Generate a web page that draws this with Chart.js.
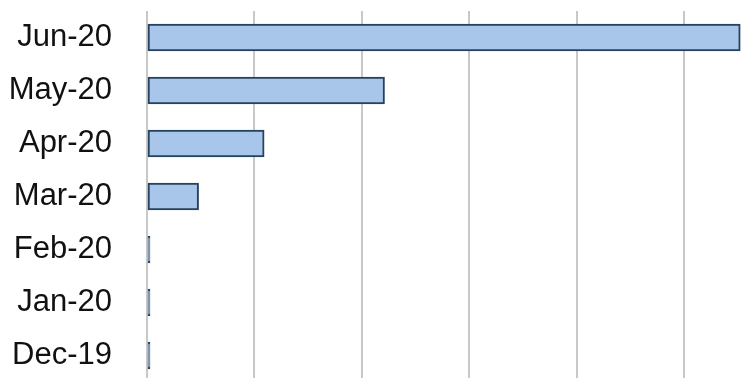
<!DOCTYPE html>
<html>
<head>
<meta charset="utf-8">
<script src="https://cdn.jsdelivr.net/npm/chart.js@4.4.0/dist/chart.umd.min.js"></script>
<style>
  html, body { margin: 0; padding: 0; background: #fff; overflow: hidden; }
  #wrap { position: relative; width: 751px; height: 382px; }
</style>
</head>
<body>
<div id="wrap"><canvas id="grafico"></canvas></div>
<script>
// dados do gráfico
const meses = ['Jun-20', 'May-20', 'Apr-20', 'Mar-20', 'Feb-20', 'Jan-20', 'Dec-19'];
const valores = [552, 221, 109, 48, 2.8, 2.8, 2.8];
const passoGrade = 100;
const maxEixo = 562;

const ctx = document.getElementById('grafico').getContext('2d');

// tira o padding automático que o Chart.js reserva para os rótulos
function semPadding(scale) {
    scale.paddingTop = 0;
    scale.paddingBottom = 0;
    scale.paddingLeft = 0;
    scale.paddingRight = 0;
}

new Chart(ctx, {
    type: 'bar',
    data: {
        labels: meses,
        datasets: [{
            data: valores,
            backgroundColor: '#a8c6e9',
            borderColor: '#27425f',
            borderWidth: 2,
            borderSkipped: false,
            barThickness: 27
        }]
    },
    options: {
        indexAxis: 'y',
        responsive: true,
        maintainAspectRatio: false,
        animation: false,
        layout: { padding: { top: 11, right: 0, bottom: 0, left: 0 } },
        plugins: {
            legend: { display: false },
            tooltip: { enabled: false }
        },
        scales: {
            x: {
                min: 0,
                max: maxEixo,
                ticks: { display: false, stepSize: passoGrade, includeBounds: false },
                grid: { color: '#c8c8c8', lineWidth: 2, drawTicks: false },
                border: { display: false },
                afterFit: (scale) => { scale.height = 0; semPadding(scale); }
            },
            y: {
                grid: { display: false, drawTicks: false },
                border: { display: false },
                ticks: {
                    color: '#111',
                    padding: 35,
                    font: { family: 'Liberation Sans', size: 31 }
                },
                afterFit: (scale) => { scale.width = 147; semPadding(scale); }
            }
        }
    }
});
</script>
</body>
</html>
